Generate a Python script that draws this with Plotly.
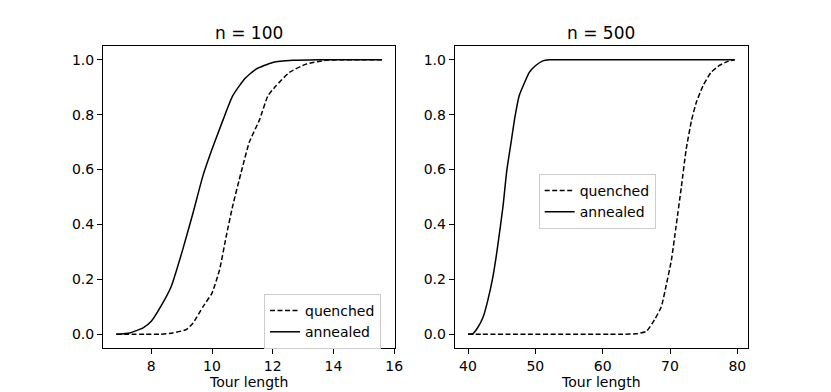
"""Кривые распределения длины тура: quenched vs annealed, n = 100 и n = 500."""
import plotly.graph_objects as go
from plotly.subplots import make_subplots

# n = 100
x100_quenched = [6.85, 7.8, 8.27, 8.71, 9.15, 9.37, 9.70, 10.0, 10.25, 10.47, 10.68, 10.96,
                 11.23, 11.56, 11.84, 12.11, 12.55, 13.1, 13.75, 14.3, 15.0, 15.6]
y100_quenched = [0.0, 0.0, 0.0, 0.005, 0.017, 0.04, 0.10, 0.15, 0.236, 0.358, 0.467, 0.59,
                 0.70, 0.78, 0.868, 0.905, 0.954, 0.984, 0.998, 1.0, 1.0, 1.0]
x100_annealed = [6.85, 7.29, 7.73, 8.0, 8.38, 8.66, 9.04, 9.37, 9.70, 10.0, 10.36,
                 10.68, 11.07, 11.45, 12.0, 12.66, 13.53, 14.5, 15.6]
y100_annealed = [0.0, 0.005, 0.023, 0.047, 0.114, 0.175, 0.31, 0.44, 0.577, 0.674, 0.78,
                 0.868, 0.93, 0.966, 0.99, 0.998, 1.0, 1.0, 1.0]

# n = 500
x500_quenched = [40.0, 42.0, 61.0, 63.0, 65.0, 66.5, 67.7, 68.7, 69.4, 70.2, 70.9, 71.7,
                 72.4, 73.2, 73.9, 74.9, 76.1, 77.4, 78.6, 79.6]
y500_quenched = [0.0, 0.0, 0.0, 0.0, 0.002, 0.011, 0.053, 0.10, 0.175, 0.27, 0.394, 0.54,
                 0.674, 0.78, 0.844, 0.905, 0.954, 0.98, 0.994, 1.0]
x500_annealed = [40.0, 40.7, 41.4, 42.2, 42.9, 43.7, 44.4, 45.2, 45.75, 46.4, 47.0,
                 47.6, 48.4, 49.1, 50.0, 51.1, 52.1, 54.0, 77.0, 79.6]
y500_annealed = [0.0, 0.002, 0.023, 0.06, 0.12, 0.21, 0.32, 0.467, 0.595, 0.70, 0.796,
                 0.869, 0.917, 0.954, 0.978, 0.996, 1.0, 1.0, 1.0, 1.0]

titles = ["n = 100", "n = 500"]
x_ticks = [[8, 10, 12, 14, 16], [40, 50, 60, 70, 80]]
x_ranges = [[6.41, 16.04], [38.02, 81.58]]
y_ticks = [0.0, 0.2, 0.4, 0.6, 0.8, 1.0]

FONT = "DejaVu Sans"
W, H = 831, 392
# рамки осей в пикселях
L, R, T, B = 103.3, 748.3, 45.7, 348.0
PW = R - L

fig = make_subplots(rows=1, cols=2)

series = [
    (1, x100_quenched, y100_quenched, "quenched", "dash", "legend"),
    (1, x100_annealed, y100_annealed, "annealed", "solid", "legend"),
    (2, x500_quenched, y500_quenched, "quenched", "dash", "legend2"),
    (2, x500_annealed, y500_annealed, "annealed", "solid", "legend2"),
]
for col, xs, ys, name, dash, leg in series:
    fig.add_trace(go.Scatter(
        x=xs, y=ys, mode="lines", name=name, legend=leg,
        line=dict(color="black", width=1.5, shape="spline", smoothing=0.5,
                  dash="5px,2.5px" if dash == "dash" else "solid"),
    ), row=1, col=col)

x_domains = [[0, (395.7 - L) / PW], [(455 - L) / PW, 1]]

axis_kw = dict(
    showline=True, linecolor="black", linewidth=1, mirror=True,
    ticks="outside", ticklen=5, tickcolor="black",
    showgrid=False, zeroline=False, automargin=False,
    tickfont=dict(family=FONT, size=14, color="black"),
)
for i in range(2):
    fig.update_xaxes(
        domain=x_domains[i], range=x_ranges[i], tickvals=x_ticks[i],
        title=dict(text="Tour length", font=dict(family=FONT, size=14, color="black"),
                   standoff=0),
        row=1, col=i + 1, **axis_kw,
    )
    fig.update_yaxes(
        domain=[0, 1], range=[-0.05, 1.05], tickvals=y_ticks,
        ticktext=[f"{v:.1f}" for v in y_ticks],
        row=1, col=i + 1, **axis_kw,
    )
    fig.add_annotation(
        text=titles[i], xref="paper", yref="paper",
        x=sum(x_domains[i]) / 2, y=1, xanchor="center", yanchor="bottom", yshift=1,
        showarrow=False, font=dict(family=FONT, size=17, color="black"),
    )

legend_kw = dict(
    bgcolor="rgba(255,255,255,0.8)", bordercolor="#cccccc", borderwidth=1,
    font=dict(family=FONT, size=14, color="black"),
    itemwidth=30, xanchor="left", yanchor="top", tracegroupgap=0,
    xref="container", yref="container",
)
fig.update_layout(
    width=W, height=H,
    margin=dict(l=L, r=W - R, t=T, b=H - B, autoexpand=False),
    paper_bgcolor="white", plot_bgcolor="white",
    showlegend=True,
    legend=dict(x=264 / W, y=1 - 294 / H, **legend_kw),
    legend2=dict(x=538.7 / W, y=1 - 174 / H, **legend_kw),
)

# убрать стандартный отступ body, чтобы фигура легла в окно ровно
fig.write_html("out.html", config={"displayModeBar": False},
               post_script="document.body.style.margin='0';")
